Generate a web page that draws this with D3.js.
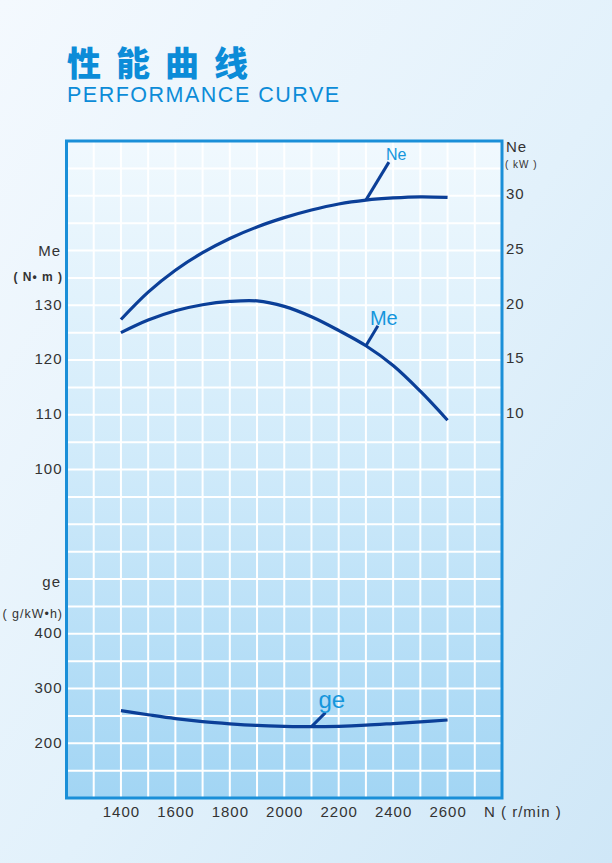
<!DOCTYPE html>
<html>
<head>
<meta charset="utf-8">
<script src="https://cdn.jsdelivr.net/npm/d3@7"></script>
<style>
  html, body { margin: 0; padding: 0; }
  body { width: 612px; height: 863px; overflow: hidden; }
  svg { display: block; font-family: "Liberation Sans", Arial, sans-serif; }
</style>
</head>
<body>
<svg id="chart" width="612" height="863"></svg>
<script>
// ---- DATA ---- //
const rpm = [1400, 1500, 1600, 1700, 1800, 1900, 2000, 2100, 2200, 2300, 2400, 2500, 2600];
const power = [18.7, 21.2, 23.2, 24.8, 26.1, 27.15, 28.0, 28.7, 29.25, 29.6, 29.8, 29.9, 29.85];      // Ne (kW)
const torque = [125.0, 127.3, 129.0, 130.1, 130.7, 130.8, 129.8, 127.9, 125.4, 122.6, 119.0, 114.3, 109.0]; // Me (N·m)
const fuel = [259.5, 252, 245, 239.5, 235.5, 232.5, 231, 230.3, 231, 233, 236, 239.2, 242.5];   // ge (g/kW·h)

const rpmTicks = [1400, 1600, 1800, 2000, 2200, 2400, 2600];
const meTicks = [100, 110, 120, 130];
const geTicks = [200, 300, 400];
const neTicks = [10, 15, 20, 25, 30];

const svg = d3.select("#chart");

const plot = { L: 66.5, R: 502, T: 141, B: 798 };

const lineColor = "#0b3f98";
const frameColor = "#1a8fd8";
const labelBlue = "#1596dc";
const textColor = "#333";

// ---- BACKGROUND ---- //
const defs = svg.append("defs");
const bg = defs.append("linearGradient")
    .attr("id", "bg")
    .attr("x1", "0").attr("y1", "0").attr("x2", "1").attr("y2", "1");
bg.append("stop").attr("offset", "0%").attr("stop-color", "#f4f9fe");
bg.append("stop").attr("offset", "55%").attr("stop-color", "#e2f1fb");
bg.append("stop").attr("offset", "100%").attr("stop-color", "#cfe7f7");

const area = defs.append("linearGradient")
    .attr("id", "area")
    .attr("x1", "0").attr("y1", "0").attr("x2", "0").attr("y2", "1");
area.append("stop").attr("offset", "0%").attr("stop-color", "#f1f9fe");
area.append("stop").attr("offset", "50%").attr("stop-color", "#cfeafa");
area.append("stop").attr("offset", "100%").attr("stop-color", "#a2d5f4");

svg.append("rect")
    .attr("width", 612).attr("height", 863)
    .attr("fill", "url(#bg)");

// ---- TITLE ---- //
svg.append("text")
    .attr("x", 67).attr("y", 76)
    .attr("font-family", "'Noto Sans CJK SC', sans-serif")
    .attr("font-weight", 900)
    .attr("font-size", 34)
    .attr("letter-spacing", 15)
    .attr("fill", "#0c8cd8")
    .text("性能曲线");

svg.append("text")
    .attr("x", 67).attr("y", 102)
    .attr("font-size", 21.5)
    .attr("letter-spacing", 1.5)
    .attr("fill", "#0c8cd8")
    .text("PERFORMANCE CURVE");

// ---- SCALES ---- //
const x = d3.scaleLinear().domain([1200, 2800]).range([plot.L, plot.R]);
const yMe = d3.scaleLinear().domain([40, 160]).range([plot.B, plot.T]);
const yNe = d3.scaleLinear().domain([-25, 35]).range([plot.B, plot.T]);
const yGe = d3.scaleLinear().domain([100, 1300]).range([plot.B, plot.T]);

// ---- PLOT AREA & GRID ---- //
svg.append("rect")
    .attr("x", plot.L).attr("y", plot.T)
    .attr("width", plot.R - plot.L).attr("height", plot.B - plot.T)
    .attr("fill", "url(#area)");

const grid = svg.append("g").attr("stroke", "#fff").attr("stroke-width", 2);
grid.selectAll(".vgrid")
    .data(d3.range(1300, 2800, 100))
    .join("line")
    .attr("class", "vgrid")
    .attr("x1", d => x(d)).attr("x2", d => x(d))
    .attr("y1", plot.T).attr("y2", plot.B);
grid.selectAll(".hgrid")
    .data(d3.range(45, 160, 5))
    .join("line")
    .attr("class", "hgrid")
    .attr("x1", plot.L).attr("x2", plot.R)
    .attr("y1", d => yMe(d)).attr("y2", d => yMe(d));

svg.append("rect")
    .attr("x", plot.L).attr("y", plot.T)
    .attr("width", plot.R - plot.L).attr("height", plot.B - plot.T)
    .attr("fill", "none")
    .attr("stroke", frameColor)
    .attr("stroke-width", 3);

// ---- AXES ---- //
function styleAxis(g) {
    g.select(".domain").remove();
    g.selectAll(".tick line").remove();
    g.selectAll(".tick text")
        .attr("font-size", 15)
        .attr("letter-spacing", 1)
        .attr("fill", textColor);
}

svg.append("g")
    .attr("transform", `translate(0, ${plot.B})`)
    .call(d3.axisBottom(x).tickValues(rpmTicks).tickSize(0).tickPadding(8).tickFormat(d3.format("d")))
    .call(styleAxis);

svg.append("g")
    .attr("transform", `translate(${plot.L - 2}, -1)`)
    .call(d3.axisLeft(yMe).tickValues(meTicks).tickSize(0).tickPadding(2))
    .call(styleAxis);

svg.append("g")
    .attr("transform", `translate(${plot.L - 2}, -1)`)
    .call(d3.axisLeft(yGe).tickValues(geTicks).tickSize(0).tickPadding(2))
    .call(styleAxis);

svg.append("g")
    .attr("transform", `translate(${plot.R + 2}, -2)`)
    .call(d3.axisRight(yNe).tickValues(neTicks).tickSize(0).tickPadding(2))
    .call(styleAxis);

// axis titles
function label(tx, ty, txt, size, anchor, weight) {
    svg.append("text")
        .attr("x", tx).attr("y", ty)
        .attr("font-size", size)
        .attr("font-weight", weight || "normal")
        .attr("letter-spacing", 1)
        .attr("text-anchor", anchor)
        .attr("fill", textColor)
        .text(txt);
}
label(61, 256, "Me", 15, "end");
label(63, 281, "( N• m )", 12, "end", "bold");
label(61, 587, "ge", 15, "end");
label(63, 618, "( g/kW•h)", 12.5, "end");
label(506, 152, "Ne", 15, "start");
label(505, 168, "( kW )", 10, "start");
label(484, 817, "N ( r/min )", 15, "start");

// ---- CURVES ---- //
const series = [
    { name: "Ne", values: power, y: yNe, at: 2300, dx: 23, dy: -38, size: 16, tdx: -3, tdy: -2 },
    { name: "Me", values: torque, y: yMe, at: 2300, dx: 12, dy: -20, size: 20, tdx: -8, tdy: -1 },
    { name: "ge", values: fuel, y: yGe, at: 2100, dx: 14, dy: -14, size: 24, tdx: -7, tdy: -5 },
];

series.forEach(s => {
    const pts = rpm.map((r, i) => [r, s.values[i]]);
    const line = d3.line()
        .x(d => x(d[0]))
        .y(d => s.y(d[1]))
        .curve(d3.curveCatmullRom.alpha(0.5));

    svg.append("path")
        .attr("d", line(pts))
        .attr("fill", "none")
        .attr("stroke", lineColor)
        .attr("stroke-width", 3.2);

    // pointer + name
    const i = rpm.indexOf(s.at);
    const px = x(s.at), py = s.y(s.values[i]);
    svg.append("line")
        .attr("x1", px).attr("y1", py)
        .attr("x2", px + s.dx).attr("y2", py + s.dy)
        .attr("stroke", lineColor)
        .attr("stroke-width", 3);
    svg.append("text")
        .attr("x", px + s.dx + s.tdx).attr("y", py + s.dy + s.tdy)
        .attr("font-size", s.size)
        .attr("fill", labelBlue)
        .text(s.name);
});
</script>
</body>
</html>
